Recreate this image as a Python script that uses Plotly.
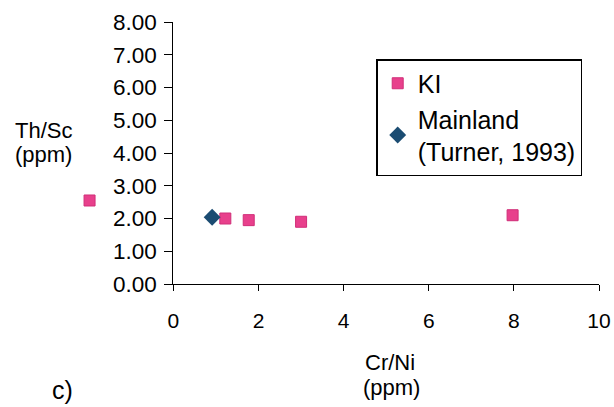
import plotly.graph_objects as go

# Data
ki_x = [-1.97, 1.22, 1.77, 3.0, 7.97]
ki_y = [2.55, 2.00, 1.95, 1.90, 2.10]
main_x = [0.91]
main_y = [2.04]
x_ticks = [0, 2, 4, 6, 8, 10]
y_ticks = [0, 1, 2, 3, 4, 5, 6, 7, 8]
y_tick_labels = [f"{v:.2f}" for v in y_ticks]

PINK = "#E8408C"
BLUE = "#1B4C72"
FONT = "Liberation Sans, Arial, sans-serif"

X_FULL = [-2.5, 10]   # extended scale for the point left of the y axis
X_MAIN = [0, 10]

# split KI points: those left of the y axis are drawn on an extended hidden axis
in_x = [x for x in ki_x if x >= 0]
in_y = [y for x, y in zip(ki_x, ki_y) if x >= 0]
out_x = [x for x in ki_x if x < 0]
out_y = [y for x, y in zip(ki_x, ki_y) if x < 0]

ki_marker = dict(symbol="square", size=11, color=PINK, line=dict(color="#D02E78", width=1))

fig = go.Figure()
fig.add_trace(go.Scatter(x=in_x, y=in_y, mode="markers", name="KI",
                         marker=ki_marker, legendrank=1))
fig.add_trace(go.Scatter(x=main_x, y=main_y, mode="markers",
                         name="Mainland<br>(Turner, 1993)", legendrank=2,
                         marker=dict(symbol="diamond", size=13, color=BLUE)))
fig.add_trace(go.Scatter(x=out_x, y=out_y, mode="markers", name="KI",
                         marker=ki_marker, showlegend=False,
                         xaxis="x2", yaxis="y"))

W, H = 614, 407
# plot area in pixel coordinates
PL, PR, PT, PB = 66.5, 599, 22, 284
L, T = PL, PT
R, B = W - PR, H - PB
pw, ph = PR - PL, PB - PT

def px(xp):
    return (xp - PL) / pw

def py(yp):
    return (PB - yp) / ph

dom0 = (0 - X_FULL[0]) / (X_FULL[1] - X_FULL[0])

def label(text, x, y, size, xanchor="center"):
    return dict(text=text, x=px(x), y=py(y), xref="paper", yref="paper",
                xanchor=xanchor, yanchor="middle", showarrow=False,
                font=dict(size=size))

fig.update_layout(
    width=W, height=H,
    margin=dict(l=L, r=R, t=T, b=B, autoexpand=False),
    paper_bgcolor="white", plot_bgcolor="rgba(0,0,0,0)",
    font=dict(family=FONT, size=22, color="black"),
    showlegend=True,
    legend=dict(
        x=px(376), y=py(59), xanchor="left", yanchor="top",
        bordercolor="black", borderwidth=1.5, bgcolor="white",
        font=dict(size=25, family=FONT, color="black"),
        itemwidth=30, tracegroupgap=8,
    ),
    xaxis=dict(
        domain=[dom0, 1], anchor="y",
        range=X_MAIN, tickvals=x_ticks, ticktext=[str(v) for v in x_ticks],
        showgrid=False, zeroline=False, showline=True, linecolor="black",
        linewidth=1.2, ticks="outside", ticklen=6, tickcolor="black",
        ticklabelstandoff=12, tickfont=dict(size=21), automargin=False,
    ),
    xaxis2=dict(domain=[0, 1], anchor="y", range=X_FULL, visible=False,
                showgrid=False, zeroline=False),
    yaxis=dict(
        anchor="x",
        range=[0, 8], tickvals=y_ticks, ticktext=y_tick_labels,
        showgrid=False, zeroline=False, showline=True, linecolor="black",
        linewidth=1.2, ticks="outside", ticklen=8, tickcolor="black",
        ticklabelstandoff=3, tickfont=dict(size=22.5), automargin=False,
    ),
    annotations=[
        label("Th/Sc", 12, 130, 22, xanchor="left"),
        label("(ppm)", 12, 154, 22, xanchor="left"),
        label("Cr/Ni", 390, 362, 22),
        label("(ppm)", 391, 387, 22),
        label("c)", 62, 390, 25),
    ],
)

fig.write_html("out.html", config={"displayModeBar": False},
               post_script="document.body.style.margin='0';")
